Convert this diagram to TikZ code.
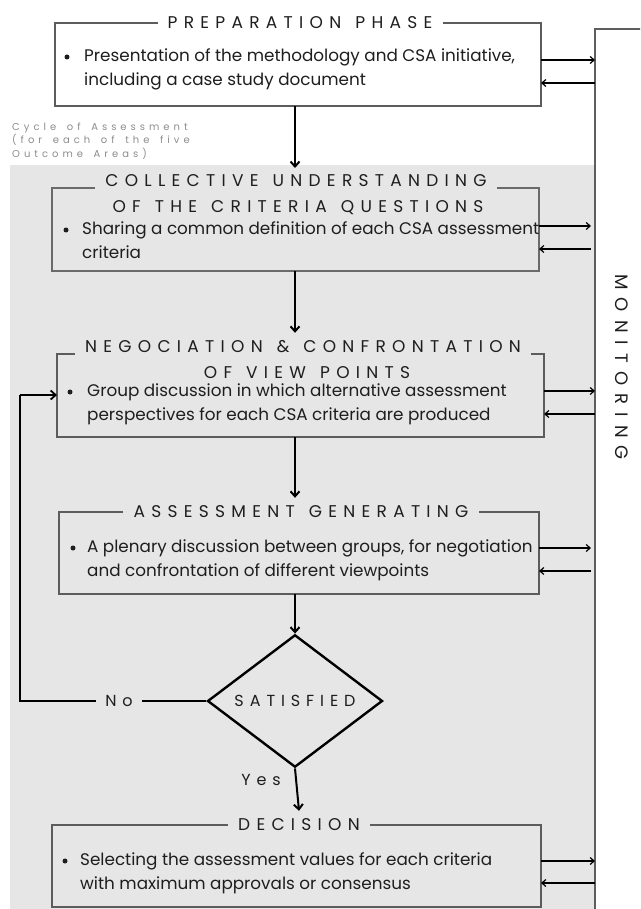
\documentclass[tikz,border=0pt]{standalone}
\usepackage{fontspec}
\setmainfont{Poppins}
\newfontfamily\spaced[LetterSpace=37,WordSpace=1.3]{Poppins}
\newfontfamily\widespaced[LetterSpace=45]{Poppins}
\newfontfamily\notefont[LetterSpace=40,WordSpace=1.6]{Poppins}
\usetikzlibrary{arrows.meta,shapes.geometric,calc}
\definecolor{panel}{HTML}{E6E6E6}
\definecolor{frameGrey}{HTML}{5C5C5C}
\definecolor{softFrame}{HTML}{6A6A6A}
\definecolor{ink}{HTML}{1E1E1E}
\definecolor{noteGrey}{HTML}{8C8C8C}
\definecolor{monGrey}{HTML}{5E5E5E}

\begin{document}
\begin{tikzpicture}[x=1pt,y=-1pt,
  frame/.style={draw=none, inner sep=0pt, outer sep=0pt, anchor=north west},
  border/.style={draw=frameGrey, line width=2.4pt},
  thinborder/.style={draw=frameGrey, line width=1.5pt},
  heading/.style={font=\spaced\fontsize{17}{17}\selectfont, text=ink, inner xsep=10pt, inner ysep=7pt, text height=12pt, text depth=0pt},
  bodyline/.style={font=\fontsize{16.8}{16.8}\selectfont, text=ink, anchor=west, inner sep=0pt, text height=12pt, text depth=3pt},
  dot/.style={circle, fill=ink, minimum size=5pt, inner sep=0pt},
  flow/.style={draw=black, line width=2pt, -{Straight Barb[length=5pt,width=9pt]}},
  side/.style={draw=black, line width=1.2pt, -{Straight Barb[length=4pt,width=7pt]}},
  loopline/.style={draw=black, line width=1.8pt},
]
\clip (0,0) rectangle (640,909);

% shaded cycle panel and the monitoring column
\node[frame, fill=panel, minimum width=585pt, minimum height=760pt] (cycle) at (10,165) {};
\node[frame, draw=monGrey, fill=white, line width=1.8pt, minimum width=100pt, minimum height=920pt] (mon) at (595,29) {};
\node[font=\widespaced\fontsize{18}{18}\selectfont, text=ink, rotate=-90] (monT) at (622,367) {MONITORING};

\node[anchor=west, align=left, inner sep=0pt, text=noteGrey, font=\notefont\fontsize{10}{13.3}\selectfont] (cyc) at (12,141)
  {Cycle of Assessment\\(for each of the five\\Outcome Areas)};

% step frames
\node[frame, fill=white, minimum width=486pt, minimum height=83pt] (prep) at (55,23) {};
\node[frame, minimum width=487pt, minimum height=83pt] (coll) at (52,188) {};
\node[frame, minimum width=487pt, minimum height=83pt] (neg) at (57,354) {};
\node[frame, minimum width=480pt, minimum height=82pt] (ag) at (59,512) {};
\node[frame, minimum width=489pt, minimum height=82pt] (dec) at (52,825) {};

% headings
\node[heading] (prepT) at (300,23) {PREPARATION PHASE};
\node[heading] (collT1) at (296,181) {COLLECTIVE UNDERSTANDING};
\node[heading] (collT2) at (298,207) {OF THE CRITERIA QUESTIONS};
\node[heading] (negT1) at (303,346) {NEGOCIATION \& CONFRONTATION};
\node[heading] (negT2) at (307,372) {OF VIEW POINTS};
\node[heading] (agT) at (301,511) {ASSESSMENT GENERATING};
\node[heading] (decT) at (299,824) {DECISION};

% frame outlines, open where the heading sits
\draw[thinborder] (prepT.west |- prep.north) -- (prep.north west) -- (prep.south west) -- (prep.south east) -- (prep.north east) -- (prepT.east |- prep.north);
\draw[thinborder, draw=softFrame] (collT1.west |- coll.north) -- (coll.north west) -- (coll.south west) -- (coll.south east) -- (coll.north east) -- (collT1.east |- coll.north);
\draw[border] (negT1.west |- neg.north) -- (neg.north west) -- (neg.south west) -- (neg.south east) -- (neg.north east) -- (negT1.east |- neg.north);
\draw[border] (agT.west |- ag.north) -- (ag.north west) -- (ag.south west) -- (ag.south east) -- (ag.north east) -- (agT.east |- ag.north);
\draw[border] (decT.west |- dec.north) -- (dec.north west) -- (dec.south west) -- (dec.south east) -- (dec.north east) -- (decT.east |- dec.north);

% bullet texts
\node[dot] (prepB) at (67,57) {};
\node[bodyline] (prep1) at (84,57) {Presentation of the methodology and CSA initiative,};
\node[bodyline] (prep2) at (84,81) {including a case study document};
\node[dot] (collB) at (66,230) {};
\node[bodyline] (coll1) at (82,230) {Sharing a common definition of each CSA assessment};
\node[bodyline] (coll2) at (82,254) {criteria};
\node[dot] (negB) at (70,392) {};
\node[bodyline] (neg1) at (87,392) {Group discussion in which alternative assessment};
\node[bodyline] (neg2) at (87,416) {perspectives for each CSA criteria are produced};
\node[dot] (agB) at (73,548) {};
\node[bodyline] (ag1) at (87,548) {A plenary discussion between groups, for negotiation};
\node[bodyline] (ag2) at (87,572) {and confrontation of different viewpoints};
\node[dot] (decB) at (65,861) {};
\node[bodyline] (dec1) at (80,861) {Selecting the assessment values for each criteria};
\node[bodyline] (dec2) at (80,885) {with maximum approvals or consensus};

% decision diamond and its labels
\node[shape=diamond, draw=black, line width=2.4pt, minimum width=175pt, minimum height=109pt, inner sep=0pt,
      font=\spaced\fontsize{16}{16}\selectfont, text=ink] (sat) at (295,701) {SATISFIED};
\node[font=\spaced\fontsize{16}{16}\selectfont, text=ink, inner xsep=9pt, inner ysep=2pt] (no) at (119,701) {No};
\node[font=\spaced\fontsize{16}{16}\selectfont, text=ink] (yes) at (261,780) {Yes};
\coordinate (spine) at (295,0);
\coordinate (loopB) at (20,701);
\coordinate (loopT) at (20,395);

% main flow
\draw[flow, shorten >=-3pt] (prep.south -| spine) -- (cycle.north -| spine);
\draw[flow] (coll.south -| spine) -- (negT1.north -| spine);
\draw[flow] (neg.south -| spine) -- (agT.north -| spine);
\draw[flow] (ag.south -| spine) -- (sat.north);
\draw[flow] (sat.south) -- (decT.north);

% "No" branch back to the negotiation step
\draw[loopline] (sat.west) -- (no.east);
\draw[loopline] (no.west) -- (loopB) -- (loopT);
\draw[flow, line width=1.8pt] (loopT) -- (loopT -| neg.west);

% exchanges with monitoring
\foreach \b/\u/\d/\g in {prep/4.5/18.5/0, coll/3.5/19.5/4, neg/4.5/18.5/0, ag/5/18/4, dec/5/17/0}{
  \coordinate (\b-o) at ([yshift=\u pt]\b.east);
  \coordinate (\b-i) at ([yshift=-\d pt]\b.east);
  \draw[side, shorten >=\g pt] (\b-o) -- (\b-o -| mon.west);
  \draw[side, shorten <=\g pt] (\b-i -| mon.west) -- (\b-i);
}
\end{tikzpicture}
\end{document}
